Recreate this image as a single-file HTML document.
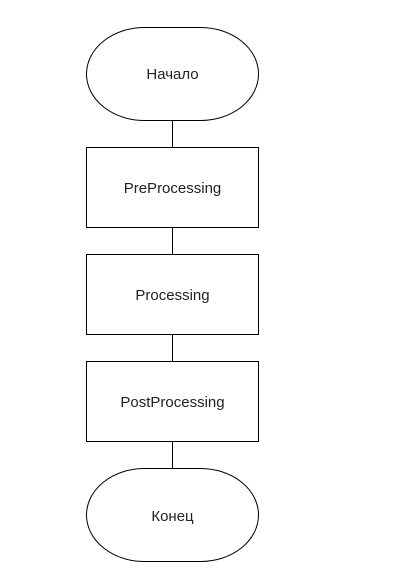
<!DOCTYPE html>
<html><head><style>body{margin:0;background:#fff;}svg{display:block}</style></head>
<body>
<svg width="401" height="575" xmlns="http://www.w3.org/2000/svg">
<g stroke="#000" stroke-width="1" fill="none">
<line x1="172.5" y1="120" x2="172.5" y2="147"/>
<line x1="172.5" y1="227" x2="172.5" y2="254"/>
<line x1="172.5" y1="334" x2="172.5" y2="362"/>
<line x1="172.5" y1="442" x2="172.5" y2="468"/>
<rect x="86.5" y="27.5" width="172" height="93" rx="58" ry="46.5" fill="#fff"/>
<rect x="86.5" y="147.5" width="172" height="80" fill="#fff"/>
<rect x="86.5" y="254.5" width="172" height="80" fill="#fff"/>
<rect x="86.5" y="361.5" width="172" height="80" fill="#fff"/>
<rect x="86.5" y="468.5" width="172" height="93" rx="58" ry="46.5" fill="#fff"/>
</g>
<g font-family="Liberation Sans, DejaVu Sans, sans-serif" font-size="15" fill="#222" text-anchor="middle">
<text x="172.5" y="79">Начало</text>
<text x="172.5" y="193">PreProcessing</text>
<text x="172.5" y="300">Processing</text>
<text x="172.5" y="407">PostProcessing</text>
<text x="172.5" y="521">Конец</text>
</g>
</svg>
</body></html>
